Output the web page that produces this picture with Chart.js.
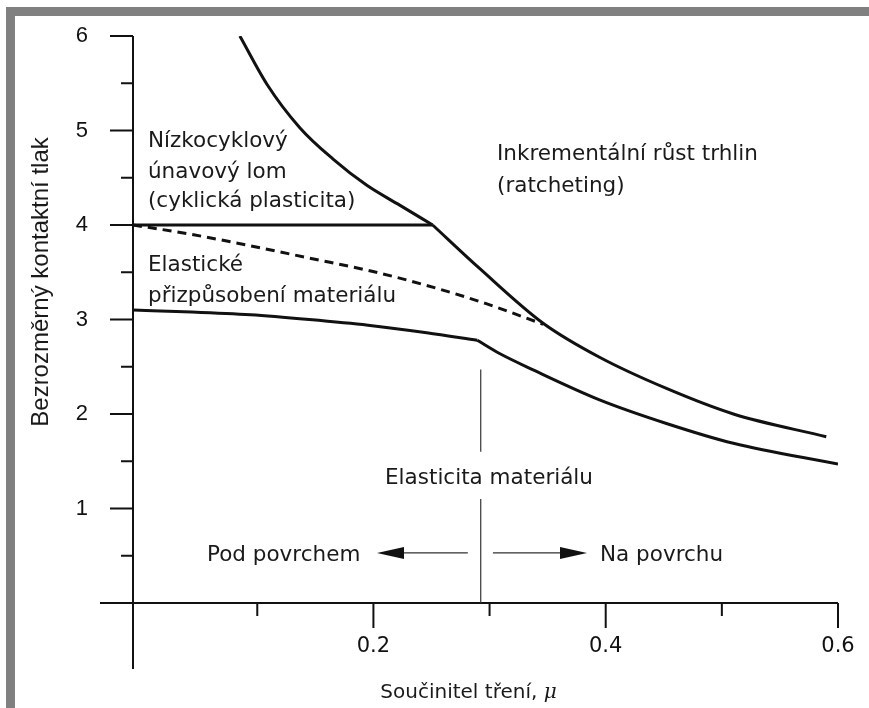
<!DOCTYPE html>
<html><head><meta charset="utf-8">
<script src="https://cdn.jsdelivr.net/npm/chart.js@4/dist/chart.umd.min.js"></script>
<style>html,body{margin:0;padding:0;background:#fff;}#wrap{position:relative;width:869px;height:708px;}</style>
</head><body><div id="wrap"><canvas id="c" width="869" height="708"></canvas></div>
<script>
// ---- data ----
const xTickLabels = ['0.2', '0.4', '0.6'];
const yTickLabels = ['1', '2', '3', '4', '5', '6'];
const xMin = -0.007, xMax = 0.6, yMin = 0, yMax = 6;

// ratcheting boundary (upper part, down to the kink)
const ratchetUpperMu = [0.085, 0.1083, 0.1366, 0.165, 0.1943, 0.2226, 0.251];
const ratchetUpperP  = [6.00, 5.49, 5.03, 4.70, 4.42, 4.21, 4.00];
// ratcheting boundary (lower part, after kink)
const ratchetLowerMu = [0.251, 0.2914, 0.3461, 0.3947, 0.4523, 0.5099, 0.5899];
const ratchetLowerP  = [4.00, 3.54, 2.96, 2.60, 2.27, 2.00, 1.76];
// plastic shakedown limit (horizontal line)
const plasticMu = [-0.007, 0.251];
const plasticP  = [4.00, 4.00];
// elastic shakedown (dashed)
const dashedMu = [-0.007, 0.0436, 0.0941, 0.1447, 0.1953, 0.2459, 0.2965, 0.3461];
const dashedP  = [4.00, 3.90, 3.78, 3.65, 3.52, 3.36, 3.17, 2.95];
// elastic limit (lower curve), two pieces
const elasticLeftMu  = [-0.007, 0.0436, 0.0941, 0.1447, 0.1953, 0.2459, 0.2894];
const elasticLeftP   = [3.10, 3.08, 3.05, 3.00, 2.94, 2.86, 2.78];
const elasticRightMu = [0.2894, 0.3086, 0.3370, 0.3947, 0.4523, 0.5099, 0.6000];
const elasticRightP  = [2.78, 2.64, 2.47, 2.15, 1.90, 1.69, 1.47];

// boundary between subsurface / surface
const boundaryMu = 0.2924;

const pts = (xs, ys) => xs.map((x, i) => ({x: x, y: ys[i]}));

const solid = {showLine: true, pointRadius: 0, borderColor: '#111', borderWidth: 3, fill: false, cubicInterpolationMode: 'monotone'};

const datasets = [
  Object.assign({label: 'ratchet1', data: pts(ratchetUpperMu, ratchetUpperP)}, solid),
  Object.assign({label: 'ratchet2', data: pts(ratchetLowerMu, ratchetLowerP)}, solid),
  Object.assign({label: 'plastic', data: pts(plasticMu, plasticP)}, solid),
  Object.assign({label: 'dashed', data: pts(dashedMu, dashedP), borderDash: [9, 6]}, solid),
  Object.assign({label: 'elastic1', data: pts(elasticLeftMu, elasticLeftP)}, solid),
  Object.assign({label: 'elastic2', data: pts(elasticRightMu, elasticRightP)}, solid)
];

const annFont = '21.5px "DejaVu Sans"';
const annotations = [
  {t: 'Nízkocyklový', x: 0.0059, y: 4.83},
  {t: 'únavový lom', x: 0.0059, y: 4.50},
  {t: '(cyklická plasticita)', x: 0.0059, y: 4.19},
  {t: 'Elastické', x: 0.0059, y: 3.51},
  {t: 'přizpůsobení materiálu', x: 0.0059, y: 3.19},
  {t: 'Inkrementální růst trhlin', x: 0.3064, y: 4.69},
  {t: '(ratcheting)', x: 0.3064, y: 4.35},
  {t: 'Elasticita materiálu', x: 0.2100, y: 1.26},
  {t: 'Pod povrchem', x: 0.0567, y: 0.445},
  {t: 'Na povrchu', x: 0.3951, y: 0.445}
];

const overlay = {
  id: 'overlay',
  beforeDraw(chart) {
    const c = chart.ctx;
    c.save();
    c.fillStyle = '#fff';
    c.fillRect(0, 0, chart.width, chart.height);
    c.fillStyle = '#808080';
    c.fillRect(6, 7, chart.width - 6, 9);
    c.fillRect(6, 7, 9, chart.height - 7);
    c.restore();
  },
  afterDraw(chart) {
    const c = chart.ctx, xs = chart.scales.x, ys = chart.scales.y;
    const X = v => xs.getPixelForValue(v), Y = v => ys.getPixelForValue(v);
    c.save();
    c.strokeStyle = '#111';
    c.lineWidth = 2;
    // axes
    c.beginPath();
    c.moveTo(X(xMin), Y(yMax)); c.lineTo(X(xMin), Y(0) + 66);
    c.moveTo(X(xMin) - 33, Y(0)); c.lineTo(X(xMax), Y(0));
    // y ticks
    for (let v = 0.5; v <= 6.001; v += 0.5) {
      const major = Math.abs(v - Math.round(v)) < 1e-6;
      c.moveTo(X(xMin) - (major ? 23 : 12), Y(v)); c.lineTo(X(xMin), Y(v));
    }
    // x ticks
    for (let k = 1; k <= 6; k++) {
      const v = k / 10, major = k % 2 === 0;
      c.moveTo(X(v), Y(0)); c.lineTo(X(v), Y(0) + (major ? 25 : 13));
    }
    c.stroke();

    // boundary vertical line
    c.strokeStyle = '#333';
    c.lineWidth = 1.2;
    c.beginPath();
    c.moveTo(X(boundaryMu), Y(2.47)); c.lineTo(X(boundaryMu), Y(1.60));
    c.moveTo(X(boundaryMu), Y(1.10)); c.lineTo(X(boundaryMu), Y(0));
    // arrow shafts
    c.moveTo(X(0.2813), Y(0.53)); c.lineTo(X(0.2206), Y(0.53));
    c.moveTo(X(0.3029), Y(0.53)); c.lineTo(X(0.3623), Y(0.53));
    c.stroke();
    // arrow heads
    c.fillStyle = '#111';
    const ay = Y(0.53);
    c.beginPath();
    c.moveTo(X(0.2031), ay); c.lineTo(X(0.2031) + 27, ay - 6); c.lineTo(X(0.2031) + 27, ay + 6); c.closePath();
    c.fill();
    c.beginPath();
    c.moveTo(X(0.3839), ay); c.lineTo(X(0.3839) - 27, ay - 6); c.lineTo(X(0.3839) - 27, ay + 6); c.closePath();
    c.fill();

    // annotations
    c.fillStyle = '#1a1a1a';
    c.font = annFont;
    c.textAlign = 'left';
    c.textBaseline = 'alphabetic';
    annotations.forEach(a => c.fillText(a.t, X(a.x), Y(a.y)));

    // axis titles
    c.font = '20px "DejaVu Sans"';
    c.textAlign = 'center';
    c.fillText('Součinitel tření, ', 462, 698);
    const w = c.measureText('Součinitel tření, ').width;
    c.font = 'italic 20px "DejaVu Serif"';
    c.textAlign = 'left';
    c.fillText('μ', 462 + w / 2, 698);

    c.translate(48, 282);
    c.rotate(-Math.PI / 2);
    c.font = '24px "Liberation Sans"';
    c.textAlign = 'center';
    c.fillText('Bezrozměrný kontaktní tlak', 0, 0);
    c.restore();
  }
};

new Chart(document.getElementById('c'), {
  type: 'scatter',
  data: {datasets: datasets},
  options: {
    responsive: false,
    animation: false,
    devicePixelRatio: 1,
    layout: {padding: {left: 0, right: 31, top: 36, bottom: 0}},
    plugins: {legend: {display: false}, tooltip: {enabled: false}},
    elements: {line: {borderCapStyle: 'butt'}},
    scales: {
      x: {
        type: 'linear', min: xMin, max: xMax,
        grid: {display: true, drawOnChartArea: false, drawTicks: true, tickLength: 31, tickColor: 'rgba(0,0,0,0)'},
        border: {display: false},
        afterFit: s => { s.height = 105; },
        afterBuildTicks: s => { s.ticks = [0.1, 0.2, 0.3, 0.4, 0.5, 0.6].map(v => ({value: v})); },
        ticks: {
          padding: 0, color: '#111',
          font: {family: '"DejaVu Sans"', size: 21},
          maxRotation: 0, autoSkip: false,
          callback: v => { const s = (Math.round(v * 10) / 10).toFixed(1); return xTickLabels.includes(s) ? s : ''; }
        }
      },
      y: {
        type: 'linear', min: yMin, max: yMax,
        grid: {display: true, drawOnChartArea: false, drawTicks: true, tickLength: 45, tickColor: 'rgba(0,0,0,0)'},
        border: {display: false},
        afterFit: s => { s.width = 133; },
        ticks: {
          stepSize: 0.5, padding: 0, color: '#111',
          font: {family: '"Liberation Sans"', size: 22},
          autoSkip: false,
          callback: v => { const s = String(Math.round(v * 10) / 10); return yTickLabels.includes(s) ? s : ''; }
        }
      }
    }
  },
  plugins: [overlay]
});
</script></body></html>
